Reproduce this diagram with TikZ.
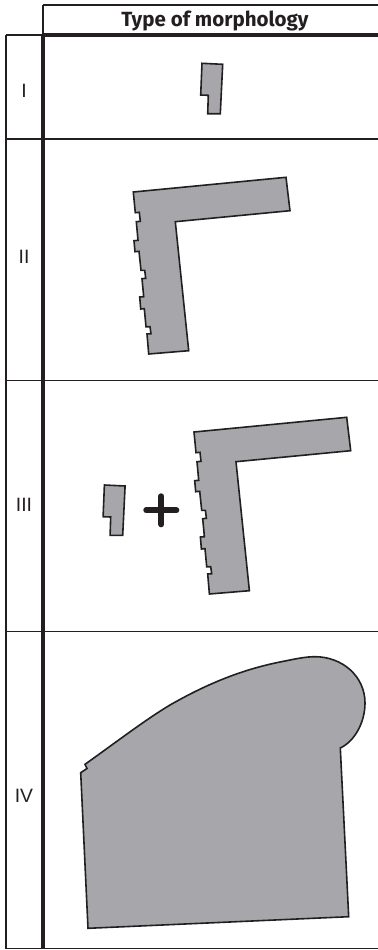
\documentclass[tikz,border=0pt]{standalone}
\usepackage{fontspec}
\setmainfont{Fira Sans}
\newfontfamily\rowfont{Liberation Sans}

\definecolor{bldggray}{RGB}{167,166,170}
\definecolor{inkblack}{RGB}{35,31,32}

\newcommand{\lblock}{(133.3,192) -- (286,177.3) -- (290,210.7) -- (175.3,221.7) -- (188.7,350.7)
  -- (148.7,354) -- (147,334) -- (151,333.7) -- (150,326.7) -- (146,326.7) -- (144.3,308.7)
  -- (140.7,309) -- (139.7,297) -- (143.7,296.7) -- (142,278.7) -- (145.7,278.3) -- (144.7,270.3)
  -- (141,270.3) -- (139,251.3) -- (135,251.7) -- (134,240.7) -- (138,240.3) -- (136.3,221.7)
  -- (140.3,221.3) -- (139.3,212.3) -- (135.3,212.7) -- cycle}
\newcommand{\sblock}{(202,63.3) -- (222.7,64.3) -- (220.3,113.7) -- (207.7,113.7) -- (208.3,95.3) -- (200.7,95) -- cycle}

\tikzset{
  bldg/.style={draw=inkblack,fill=bldggray,line width=1.2pt,line join=miter},
  thinrule/.style={draw=inkblack,line width=1.3pt},
  thickrule/.style={draw=inkblack,line width=2.9pt},
  rowlabel/.style={text=inkblack,font=\rowfont\fontsize{14.5}{17}\selectfont},
  headlabel/.style={text=inkblack,font=\fontsize{15.4}{18}\selectfont\bfseries}
}

\begin{document}
\begin{tikzpicture}[x=0.75pt,y=-0.75pt]
\useasboundingbox (0,0) rectangle (378,950);

% table
\draw[thinrule] (43,5) -- (378,5);
\draw[thinrule] (43,5) -- (43,35);
\draw[thinrule] (6,35) -- (43,35);
\draw[thinrule] (6,35) -- (6,948.5);
\draw[thinrule] (6,139) -- (378,139);
\draw[thinrule] (6,380.5) -- (378,380.5);
\draw[thinrule] (6,631.5) -- (378,631.5);
\draw[thinrule] (6,948.5) -- (378,948.5);
\draw[thickrule] (43,35) -- (378,35);
\draw[thickrule] (43.3,35) -- (43.3,948.5);

% labels
\node[headlabel] (head) at (215,21) {Type of morphology};
\node[rowlabel] (rowi) at (24,91) {I};
\node[rowlabel] (rowii) at (24,257) {II};
\node[rowlabel] (rowiii) at (24,505) {III};
\node[rowlabel] (rowiv) at (24,796) {IV};

% buildings
\draw[bldg] \sblock;
\draw[bldg] \lblock;
\draw[bldg,shift={(-97.6,421.7)}] \sblock;
\draw[bldg,shift={(60.7,240)}] \lblock;
\draw[draw=inkblack,line width=4.4pt,line cap=round] (146.2,510.3) -- (176.4,510.3);
\draw[draw=inkblack,line width=4.4pt,line cap=round] (161.3,496.2) -- (161.3,524.4);
\draw[bldg] (85,764.3) -- (87,768.5) -- (80.7,772.7) -- (88,928.3) -- (348.7,916.7) -- (340.3,748)
  .. controls (355,741) and (365,722) .. (365,703)
  .. controls (365,676) and (342,656.7) .. (315,656.7)
  .. controls (305,656.7) and (295,659) .. (280,662)
  .. controls (240,670) and (205,685) .. (170,705)
  .. controls (145,720) and (115,743) .. (85,764.3) -- cycle;
\end{tikzpicture}
\end{document}
